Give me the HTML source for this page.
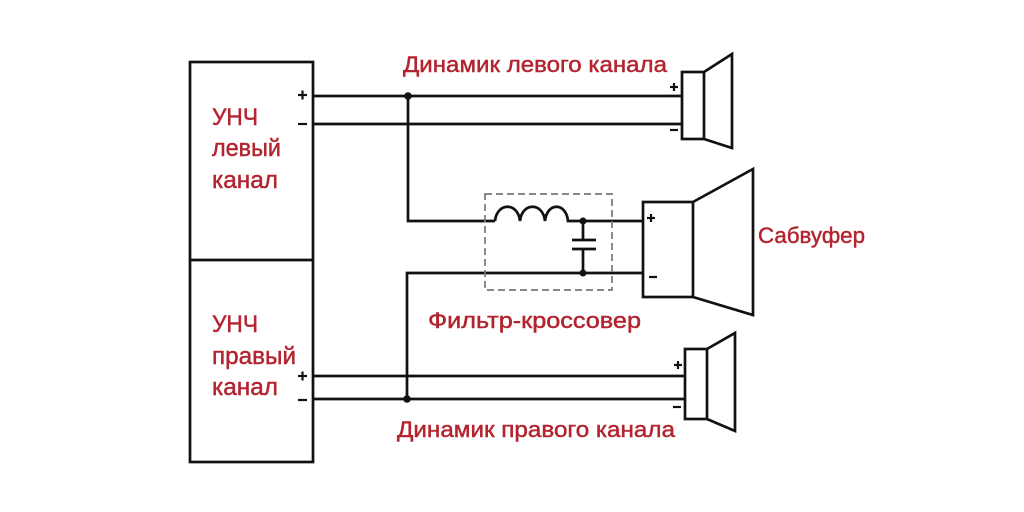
<!DOCTYPE html>
<html><head><meta charset="utf-8"><style>
html,body{margin:0;padding:0;background:#fff;}
svg{display:block;}
text{font-family:"Liberation Sans","DejaVu Sans",sans-serif;}
</style></head><body>
<svg width="1024" height="512" viewBox="0 0 1024 512" xmlns="http://www.w3.org/2000/svg">
<rect x="0" y="0" width="1024" height="512" fill="#fff"/>
<g fill="none" stroke="#111" stroke-width="2.7">
  <!-- amplifier box -->
  <rect x="190" y="62" width="123" height="400"/>
  <line x1="190" y1="260" x2="313" y2="260"/>
  <!-- left channel wires -->
  <line x1="313" y1="96" x2="682" y2="96"/>
  <line x1="313" y1="124" x2="682" y2="124"/>
  <!-- right channel wires -->
  <line x1="313" y1="376" x2="685" y2="376"/>
  <line x1="313" y1="399" x2="685" y2="399"/>
  <!-- feed to filter -->
  <polyline points="408,96 408,221 495,221"/>
  <polyline points="407,399 407,273 643,273"/>
  <!-- inductor -->
  <path d="M495,221 C497,202 518,202 520,221 C522,202 543,202 545,221 C547,202 566,202 568,221 L643,221"/>
  <!-- capacitor -->
  <line x1="583" y1="221" x2="583" y2="240"/>
  <line x1="583" y1="249" x2="583" y2="273"/>
  <line x1="572" y1="240" x2="596" y2="240"/>
  <line x1="572" y1="249" x2="596" y2="249"/>
  <!-- top speaker -->
  <rect x="682" y="72" width="22" height="67"/>
  <polyline points="704,72 732,54 732,148 704,139"/>
  <!-- subwoofer -->
  <rect x="643" y="202" width="50" height="95"/>
  <polyline points="693,202 753,169 753,315 693,297"/>
  <!-- bottom speaker -->
  <rect x="685" y="349" width="22" height="70"/>
  <polyline points="707,349 735,333 735,431 707,419"/>
</g>
<!-- dashed filter box -->
<rect x="485" y="194" width="127" height="96" fill="none" stroke="#777" stroke-width="1.7" stroke-dasharray="7,4"/>
<!-- junction dots -->
<g fill="#111">
  <circle cx="408" cy="96" r="3.8"/>
  <circle cx="407" cy="399" r="3.8"/>
  <circle cx="583" cy="221" r="3.5"/>
  <circle cx="583" cy="273" r="3.5"/>
</g>
<!-- plus/minus signs -->
<g stroke="#111" stroke-width="2.2">
  <line x1="298" y1="95" x2="307" y2="95"/><line x1="302.5" y1="90.5" x2="302.5" y2="99.5"/>
  <line x1="298" y1="124" x2="307" y2="124"/>
  <line x1="298" y1="376" x2="307" y2="376"/><line x1="302.5" y1="371.5" x2="302.5" y2="380.5"/>
  <line x1="298" y1="400" x2="307" y2="400"/>
  <line x1="670" y1="87" x2="678" y2="87"/><line x1="674" y1="83" x2="674" y2="91"/>
  <line x1="670" y1="130" x2="678" y2="130"/>
  <line x1="674" y1="365" x2="682" y2="365"/><line x1="678" y1="361" x2="678" y2="369"/>
  <line x1="673" y1="407" x2="681" y2="407"/>
  <line x1="647" y1="218" x2="655" y2="218"/><line x1="651" y1="214" x2="651" y2="222"/>
  <line x1="649" y1="277" x2="657" y2="277"/>
</g>
<!-- labels -->
<g fill="#b3242f" stroke="#b3242f" stroke-width="0.45" font-size="22">
  <text x="403" y="72" textLength="264" lengthAdjust="spacingAndGlyphs">Динамик левого канала</text>
  <text x="428" y="328" textLength="213" lengthAdjust="spacingAndGlyphs">Фильтр-кроссовер</text>
  <text x="397" y="437" textLength="278" lengthAdjust="spacingAndGlyphs">Динамик правого канала</text>
  <text x="758" y="243" textLength="107" lengthAdjust="spacingAndGlyphs">Сабвуфер</text>
</g>
<g fill="#b3242f" stroke="#b3242f" stroke-width="0.45" font-size="24">
  <text x="212" y="125" textLength="46" lengthAdjust="spacingAndGlyphs">УНЧ</text>
  <text x="212" y="156" textLength="69" lengthAdjust="spacingAndGlyphs">левый</text>
  <text x="212" y="188" textLength="66" lengthAdjust="spacingAndGlyphs">канал</text>
  <text x="212" y="332" textLength="46" lengthAdjust="spacingAndGlyphs">УНЧ</text>
  <text x="212" y="364" textLength="84" lengthAdjust="spacingAndGlyphs">правый</text>
  <text x="212" y="395" textLength="66" lengthAdjust="spacingAndGlyphs">канал</text>
</g>
</svg>
</body></html>
